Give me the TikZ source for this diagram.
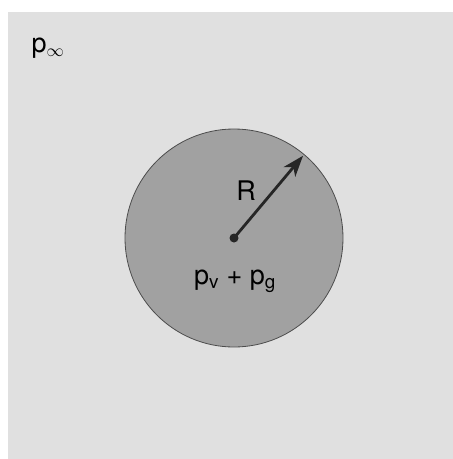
\documentclass[tikz,border=0pt]{standalone}
\usepackage{fontspec}
\setmainfont{TeX Gyre Heros}
\usetikzlibrary{arrows.meta}

\begin{document}
\begin{tikzpicture}[
  x=1pt, y=-1pt,
  label/.style={inner sep=0pt, font=\fontsize{27}{30}\selectfont},
  arrow/.style={-{Stealth[length=21pt, width=15pt, inset=6pt]}, line width=2.8pt, black!85}
]
  \useasboundingbox (0,0) rectangle (453,459);

  % Surrounding liquid
  \fill[black!12] (8,12) rectangle (453,459);
  \node[label] (pinf) at (48,48) {p\textsubscript{$\infty$}};

  % Bubble
  \node[draw, circle, line width=0.8pt, draw=black!70, fill=black!37, minimum size=218pt, inner sep=0pt] (bubble) at (234,238) {};
  \fill[black!85] (bubble.center) circle (4.5pt);
  \coordinate (center) at (bubble.center);

  % Radius
  \draw[arrow, shorten >=2pt] (center) -- (bubble.50);
  \node[label] (radius) at (246,191) {R};
  \node[label] (pressure) at (235,281) {p\textsubscript{v} + p\textsubscript{g}};
\end{tikzpicture}
\end{document}
